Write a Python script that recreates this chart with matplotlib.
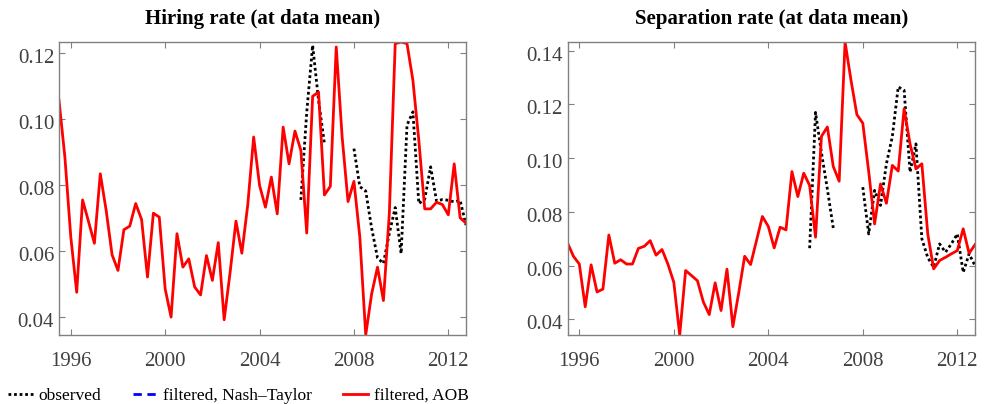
import numpy as np
import matplotlib
matplotlib.use('Agg')
import matplotlib.pyplot as plt
import matplotlib.transforms as mtransforms
from matplotlib.lines import Line2D

plt.rcParams['font.family'] = ['Liberation Serif', 'DejaVu Serif']

# quarterly dates, 1995Q3 .. 2012Q4
dates = np.arange(1995.5, 2012.76, 0.25)
nan = np.nan

hiring_aob = [0.1056, 0.0884, 0.0643, 0.0476, 0.0755, 0.0690, 0.0624, 0.0834, 0.0723, 0.0589,
              0.0542, 0.0665, 0.0676, 0.0744, 0.0696, 0.0522, 0.0715, 0.0703, 0.0486, 0.0401,
              0.0653, 0.0552, 0.0577, 0.0492, 0.0468, 0.0587, 0.0512, 0.0626, 0.0393, 0.0535,
              0.0691, 0.0594, 0.0740, 0.0945, 0.0799, 0.0733, 0.0824, 0.0713, 0.0975, 0.0864,
              0.0963, 0.0905, 0.0655, 0.1068, 0.1081, 0.0770, 0.0796, 0.1217, 0.0945, 0.0750,
              0.0811, 0.0643, 0.0347, 0.0471, 0.0552, 0.0451, 0.0713, 0.1227, 0.1232, 0.1227,
              0.1116, 0.0935, 0.0728, 0.0728, 0.0748, 0.0741, 0.0710, 0.0864, 0.0701, 0.0685]

hiring_obs = [nan] * 41 + [0.0755, 0.1020, 0.1222, 0.1056, 0.0925, nan, nan, nan, nan,
                           0.0910, 0.0795, 0.0782, 0.0670, 0.0580, 0.0563, 0.0654, 0.0732, 0.0593, 0.0981,
                           0.1021, 0.0744, 0.0757, 0.0855, 0.0752, 0.0756, 0.0754, 0.0749, 0.0754, 0.0679]

sep_aob = [0.0685, 0.0635, 0.0606, 0.0447, 0.0603, 0.0502, 0.0513, 0.0714, 0.0609, 0.0622,
           0.0606, 0.0606, 0.0664, 0.0672, 0.0693, 0.0639, 0.0660, 0.0606, 0.0538, 0.0342,
           0.0582, 0.0563, 0.0544, 0.0465, 0.0418, 0.0536, 0.0433, 0.0587, 0.0373, 0.0500,
           0.0635, 0.0604, 0.0693, 0.0783, 0.0746, 0.0666, 0.0743, 0.0733, 0.0950, 0.0857,
           0.0944, 0.0898, 0.0706, 0.1081, 0.1116, 0.0969, 0.0914, 0.1432, 0.1290, 0.1162,
           0.1130, 0.0950, 0.0755, 0.0904, 0.0832, 0.0973, 0.0952, 0.1184, 0.1053, 0.0960,
           0.0979, 0.0718, 0.0588, 0.0619, 0.0631, 0.0644, 0.0656, 0.0737, 0.0646, 0.0678]

sep_obs = [nan] * 41 + [0.0665, 0.1170, 0.1020, 0.0885, 0.0740, nan, nan, nan, nan,
                        0.0892, 0.0718, 0.0880, 0.0824, 0.0979, 0.1080, 0.1265, 0.1252, 0.0948, 0.1053,
                        0.0700, 0.0630, 0.0594, 0.0681, 0.0650, 0.0681, 0.0718, 0.0575, 0.0644, 0.0600]

titles = ['Hiring rate (at data mean)', 'Separation rate (at data mean)']
xticks = [1996, 2000, 2004, 2008, 2012]
yticks = [[0.04, 0.06, 0.08, 0.10, 0.12], [0.04, 0.06, 0.08, 0.10, 0.12, 0.14]]

W, H = 987, 404
fig = plt.figure(figsize=(W / 100, H / 100), dpi=100)
ax1 = fig.add_axes([59 / W, 1 - 335 / H, 407 / W, 293 / H])
ax2 = fig.add_axes([567.5 / W, 1 - 335 / H, 407.5 / W, 293 / H])

# y tick labels sit a few pixels below their ticks in the original
down = mtransforms.ScaledTranslation(0, -3 / 100, fig.dpi_scale_trans)

spine_col = '#808080'
for ax, obs, aob, title, yt in [(ax1, hiring_obs, hiring_aob, titles[0], yticks[0]),
                                (ax2, sep_obs, sep_aob, titles[1], yticks[1])]:
    ax.plot(dates, obs, color='black', ls=(0, (1, 1)), lw=2.0)
    ax.plot(dates, aob, color='red', lw=2.0)
    ax.set_xlim(dates[0], dates[-1])
    ax.set_ylim(min(aob), max(aob))
    ax.set_xticks(xticks)
    ax.set_yticks(yt)
    ax.set_yticklabels(['%.2f' % v for v in yt])
    ax.tick_params(direction='in', top=True, right=True, length=4, width=0.8,
                   colors=spine_col, labelcolor='#404040', labelsize=15)
    ax.tick_params(axis='x', pad=12)
    ax.tick_params(axis='y', pad=3.5)
    for lab in ax.get_yticklabels():
        lab.set_transform(lab.get_transform() + down)
    for s in ax.spines.values():
        s.set_color(spine_col)
        s.set_linewidth(1.0)
    ax.set_title(title, fontsize=15, fontweight='bold', pad=13)

handles = [Line2D([], [], color='black', ls=(0, (1, 1)), lw=2.0),
           Line2D([], [], color='blue', ls=(0, (3, 2)), lw=2.0),
           Line2D([], [], color='red', lw=2.0)]
labels = ['observed', 'filtered, Nash\u2013Taylor', 'filtered, AOB']
fig.legend(handles, labels, loc='center left', bbox_to_anchor=(5 / W, 8 / H), ncol=3,
           frameon=False, fontsize=12.5, handlelength=1.4, handletextpad=0.35,
           columnspacing=1.8, borderaxespad=0, borderpad=0.2)

fig.savefig('out.png', dpi=100)
